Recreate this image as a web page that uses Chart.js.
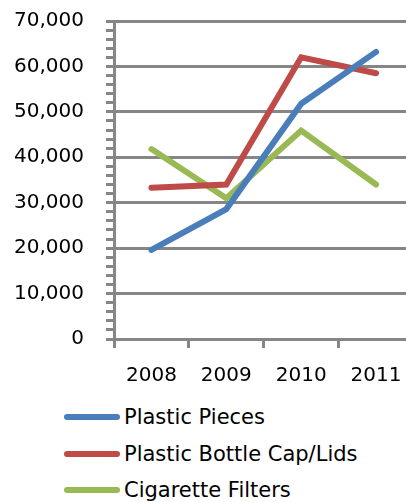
<!DOCTYPE html>
<html>
<head>
<meta charset="utf-8">
<script src="https://cdn.jsdelivr.net/npm/chart.js@4"></script>
<style>
  html, body { margin: 0; padding: 0; background: #fff; overflow: hidden; width: 406px; height: 502px; }
  #wrap { position: absolute; left: 0; top: -13px; width: 418px; height: 405px; }
  #legend { position: absolute; left: 64px; top: 399px; font-family: "DejaVu Sans", sans-serif; font-size: 21px; color: #000; }
  .item { height: 36.5px; display: flex; align-items: center; }
  .swatch { width: 56px; height: 6px; border-radius: 3px; margin-right: 4px; }
</style>
</head>
<body>
<div id="wrap"><canvas id="chart"></canvas></div>
<div id="legend"></div>
<script>
// 데이터
const years = ['2008', '2009', '2010', '2011'];
const seriesNames = ['Plastic Pieces', 'Plastic Bottle Cap/Lids', 'Cigarette Filters'];
const plasticPieces = [19600, 28600, 51800, 63200];
const bottleCaps = [33300, 34000, 62000, 58500];
const cigaretteFilters = [41800, 31000, 45900, 34000];
const colors = ['#4A7EBB', '#BE4B48', '#98B954'];

const FONT = { family: 'DejaVu Sans', size: 20 };

function makeSet(i, values) {
  return {
    label: seriesNames[i],
    data: values,
    borderColor: colors[i],
    backgroundColor: colors[i],
    borderWidth: 6,
    pointRadius: 0,
    tension: 0,
    borderCapStyle: 'round',
    borderJoinStyle: 'miter'
  };
}

const ctx = document.getElementById('chart').getContext('2d');
new Chart(ctx, {
  type: 'line',
  data: {
    labels: years,
    datasets: [makeSet(0, plasticPieces), makeSet(1, bottleCaps), makeSet(2, cigaretteFilters)]
  },
  options: {
    responsive: true,
    maintainAspectRatio: false,
    animation: false,
    layout: { padding: { top: 9, right: 4, left: 0, bottom: 0 } },
    plugins: {
      legend: { display: false },
      tooltip: { enabled: false }
    },
    scales: {
      x: {
        offset: true,
        afterFit: function(scale) { scale.height = 53; },
        border: { color: '#868686', width: 3 },
        grid: {
          offset: true,
          drawOnChartArea: false,
          drawTicks: true,
          tickLength: 9,
          color: '#868686',
          lineWidth: 3
        },
        ticks: { color: '#000', font: FONT, padding: 16 }
      },
      y: {
        min: 0,
        max: 70000,
        afterFit: function(scale) { scale.width = 114; },
        border: { color: '#868686', width: 3 },
        grid: {
          color: function(c) {
            return c.tick && c.tick.value % 10000 === 0 ? '#868686' : 'rgba(0,0,0,0)';
          },
          tickColor: '#868686',
          lineWidth: 3,
          tickWidth: 3,
          tickLength: 8,
          drawTicks: true
        },
        ticks: {
          stepSize: 2000,
          autoSkip: false,
          color: '#000',
          font: FONT,
          padding: 22,
          callback: function(v) {
            return v % 10000 === 0 ? v.toLocaleString('en-US') : '';
          }
        }
      }
    }
  }
});

// 범례
const legend = document.getElementById('legend');
seriesNames.forEach(function(name, i) {
  const row = document.createElement('div');
  row.className = 'item';
  row.innerHTML = '<div class="swatch" style="background:' + colors[i] + '"></div><span>' + name + '</span>';
  legend.appendChild(row);
});
</script>
</body>
</html>
